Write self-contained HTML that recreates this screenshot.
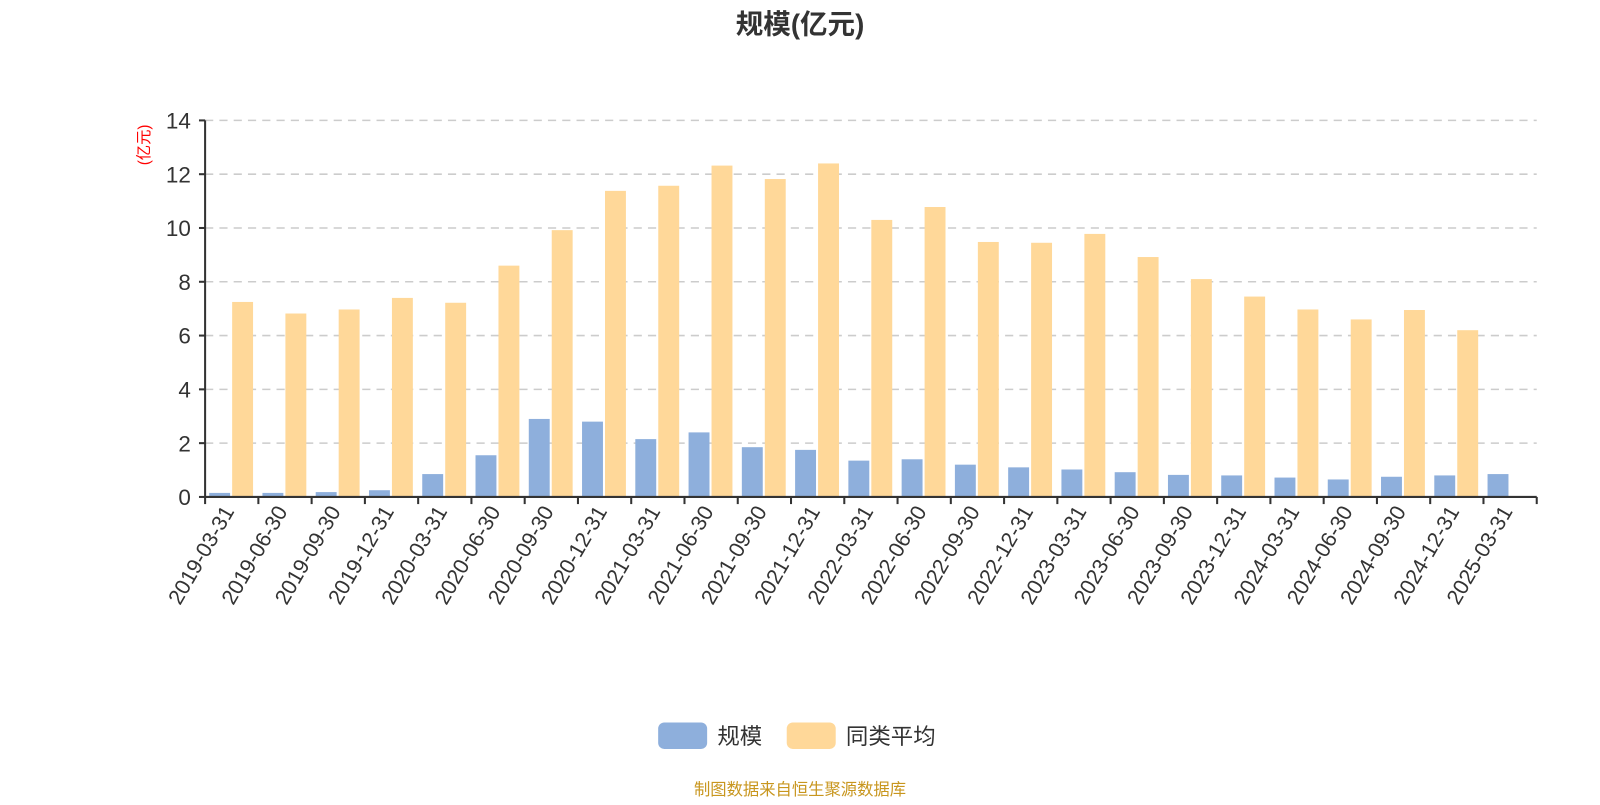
<!DOCTYPE html>
<html><head><meta charset="utf-8"><style>
body{margin:0;background:#fff;width:1600px;height:800px;overflow:hidden}
svg text{font-family:"Liberation Sans","Noto Sans CJK SC",sans-serif}
</style></head><body>
<svg id="chart" width="1600" height="800" viewBox="0 0 1568 784" xmlns="http://www.w3.org/2000/svg">
<text x="784" y="33" text-anchor="middle" font-size="27" font-weight="bold" fill="#333">规模(亿元)</text>
<text transform="translate(146,142) rotate(-90)" text-anchor="middle" font-size="15" fill="#f00">(亿元)</text>
<g id="grid"></g><g id="bars"></g><g id="axes"></g>
<g>
<g><rect x="645" y="708" width="48" height="26" rx="6" fill="#8eafdc"/><text x="703" y="729" font-size="22" fill="#333">规模</text></g>
<g><rect x="771" y="708" width="48" height="26" rx="6" fill="#ffd899"/><text x="829" y="729" font-size="22" fill="#333">同类平均</text></g>
</g>
<text x="784" y="779" text-anchor="middle" font-size="16" fill="#c8961e">制图数据来自恒生聚源数据库</text>
</svg>
<script>
const categories=["2019-03-31","2019-06-30","2019-09-30","2019-12-31","2020-03-31","2020-06-30","2020-09-30","2020-12-31","2021-03-31","2021-06-30","2021-09-30","2021-12-31","2022-03-31","2022-06-30","2022-09-30","2022-12-31","2023-03-31","2023-06-30","2023-09-30","2023-12-31","2024-03-31","2024-06-30","2024-09-30","2024-12-31","2025-03-31"];
const scaleValues=[0.15,0.15,0.18,0.25,0.85,1.55,2.9,2.8,2.15,2.4,1.85,1.75,1.35,1.4,1.2,1.1,1.02,0.92,0.82,0.8,0.72,0.65,0.75,0.8,0.85];
const peerValues=[7.25,6.82,6.97,7.4,7.22,8.6,9.92,11.38,11.57,12.32,11.82,12.4,10.3,10.78,9.48,9.45,9.78,8.92,8.1,7.45,6.97,6.6,6.95,6.2,null];
const yTicks=[0,2,4,6,8,10,12,14];
const NS="http://www.w3.org/2000/svg";
const X0=201,X1=1506,Y0=487,Y1=118,YMAX=14;
const band=(X1-X0)/categories.length;
const y=v=>Y0-(v/YMAX)*(Y0-Y1);
const xb=i=>X0+i*band;
function mk(tag,attrs,parent){const e=document.createElementNS(NS,tag);for(const k in attrs)e.setAttribute(k,attrs[k]);parent.appendChild(e);return e;}
const grid=document.getElementById('grid'),bars=document.getElementById('bars'),axes=document.getElementById('axes');
yTicks.forEach(t=>{
  if(t>0){const g=mk('line',{x1:X0,x2:X1,y1:y(t),y2:y(t),stroke:'#ccc','stroke-width':1.5,'stroke-dasharray':'8,6'},grid);
  
  }
  const tk=mk('line',{x1:X0-6,x2:X0,y1:y(t),y2:y(t),stroke:'#333','stroke-width':2},axes);
  
  
  const lb=mk('text',{x:X0-14,y:y(t)+8,'text-anchor':'end','font-size':22,fill:'#333'},axes);
  lb.textContent=t;
  
  
});
categories.forEach((c,i)=>{
  const bw=20.5;
  const v1=scaleValues[i];
  if(v1!=null){const r=mk('rect',{x:xb(i)+4,y:y(v1),width:bw,height:Y0-y(v1),fill:'#8eafdc'},bars);
  
  }
  const v2=peerValues[i];
  if(v2!=null){const r=mk('rect',{x:xb(i)+4+bw+2,y:y(v2),width:bw,height:Y0-y(v2),fill:'#ffd899'},bars);
  
  }
  const tx=xb(i)+band/2+3;
  const lb=mk('text',{x:0,y:0,'text-anchor':'end','font-size':21,fill:'#333',transform:`translate(${tx},${Y0+14}) rotate(-60)`},axes);
  lb.textContent=c;
  
  
});
for(let i=0;i<=categories.length;i++){
  const t=mk('line',{x1:xb(i),x2:xb(i),y1:Y0,y2:Y0+7,stroke:'#333','stroke-width':2},axes);
  
  
}
const ya=mk('line',{x1:X0,x2:X0,y1:Y1,y2:Y0,stroke:'#333','stroke-width':2},axes);


const xa=mk('line',{x1:X0,x2:X1,y1:Y0,y2:Y0,stroke:'#333','stroke-width':2},axes);


</script>
</body></html>
